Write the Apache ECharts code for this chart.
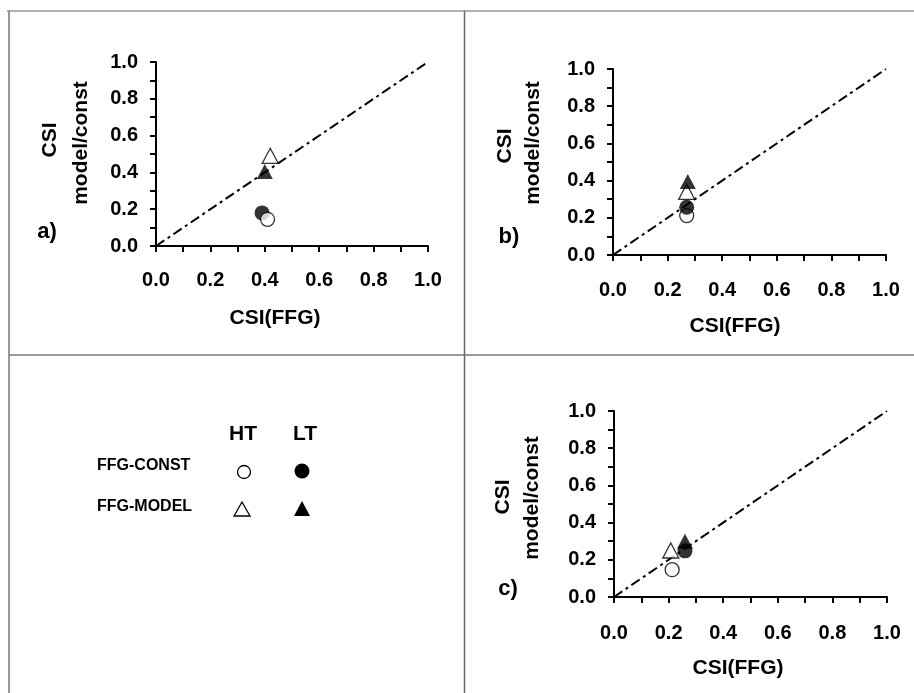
<!DOCTYPE html>
<html>
<head>
<meta charset="utf-8">
<script src="https://cdn.jsdelivr.net/npm/echarts@6/dist/echarts.min.js"></script>
<style>html,body{margin:0;padding:0;background:#fff;}#c{width:914px;height:693px;}</style>
</head>
<body>
<div id="c"></div>
<script>
// ---- data ----
const PANELS = ['a)', 'b)', 'c)'];
const HT_CONST = [[0.41, 0.145], [0.27, 0.212], [0.213, 0.147]];
const LT_CONST = [[0.39, 0.18], [0.27, 0.257], [0.26, 0.248]];
const HT_MODEL = [[0.42, 0.49], [0.27, 0.34], [0.208, 0.25]];
const LT_MODEL = [[0.40, 0.405], [0.274, 0.395], [0.26, 0.30]];
const ONE_TO_ONE = [[0, 0], [1, 1]];
const TICK_VALUES = [0, 0.2, 0.4, 0.6, 0.8, 1.0];
const TICK_LABELS = ['0.0', '0.2', '0.4', '0.6', '0.8', '1.0'];
const X_TITLE = 'CSI(FFG)';
const Y_TITLE_1 = 'CSI';
const Y_TITLE_2 = 'model/const';
const ROW_LABELS = ['FFG-CONST', 'FFG-MODEL'];
const COL_LABELS = ['HT', 'LT'];

// ---- layout ----
const FONT = 'Liberation Sans, Arial, sans-serif';
const grids = [
  {left: 156, top: 62, width: 272, height: 184},
  {left: 613, top: 69, width: 273, height: 186},
  {left: 614, top: 411, width: 273, height: 186}
];
const xLabelMargin = [24, 25, 26];
const xTitlePos = [[275, 318], [735, 326], [738, 668]];
const yTitle1Pos = [[50, 140], [505, 146], [503, 497]];
const yTitle2Pos = [[81, 143], [533, 143], [532, 498]];
const letterPos = [[47, 232], [509, 237], [508, 589]];

function fmt(v) {
  const i = TICK_VALUES.findIndex(t => Math.abs(t - v) < 1e-6);
  return i >= 0 ? TICK_LABELS[i] : '';
}
const axisCommon = {
  type: 'value', min: 0, max: 1, interval: 0.2,
  axisLine: {show: true, onZero: false, lineStyle: {color: '#000', width: 2}},
  axisTick: {show: true, length: 6, lineStyle: {color: '#000', width: 2}},
  minorTick: {show: true, splitNumber: 2, length: 6, lineStyle: {color: '#000', width: 2}},
  splitLine: {show: false}, minorSplitLine: {show: false}
};
const xAxes = grids.map((g, i) => Object.assign({}, axisCommon, {
  gridIndex: i,
  axisLabel: {margin: xLabelMargin[i], formatter: fmt, color: '#000', fontSize: 20, fontWeight: 'bold', fontFamily: FONT}
}));
const yAxes = grids.map((g, i) => Object.assign({}, axisCommon, {
  gridIndex: i,
  axisLabel: {margin: 18, formatter: fmt, color: '#000', fontSize: 20, fontWeight: 'bold', fontFamily: FONT}
}));

const series = [];
grids.forEach((g, i) => {
  series.push({type: 'line', xAxisIndex: i, yAxisIndex: i, data: ONE_TO_ONE, symbol: 'none', silent: true,
    lineStyle: {color: '#000', width: 2, type: [10, 4, 3, 4]}, z: 1});
  const open = {color: '#fff', borderColor: '#000', borderWidth: 1.3};
  const filled = {color: '#000'};
  const htOnTop = (i === 0);
  const lt = [
    {type: 'scatter', xAxisIndex: i, yAxisIndex: i, data: [LT_CONST[i]], symbol: 'circle', symbolSize: 15, itemStyle: filled},
    {type: 'scatter', xAxisIndex: i, yAxisIndex: i, data: [LT_MODEL[i]], symbol: 'triangle', symbolSize: [16, 15], itemStyle: filled}
  ];
  const ht = [
    {type: 'scatter', xAxisIndex: i, yAxisIndex: i, data: [HT_CONST[i]], symbol: 'circle', symbolSize: 14, itemStyle: open},
    {type: 'scatter', xAxisIndex: i, yAxisIndex: i, data: [HT_MODEL[i]], symbol: 'triangle', symbolSize: [16, 15], itemStyle: open}
  ];
  const ordered = htOnTop ? lt.concat(ht) : ht.concat(lt);
  ordered.forEach((s, k) => { s.z = 2 + k; series.push(s); });
});

const graphic = [];
// frame lines
graphic.push({type: 'line', shape: {x1: 7, y1: 11, x2: 914, y2: 11}, style: {stroke: '#999', lineWidth: 1.5}});
graphic.push({type: 'line', shape: {x1: 9, y1: 11, x2: 9, y2: 693}, style: {stroke: '#777', lineWidth: 1.5}});
graphic.push({type: 'line', shape: {x1: 464.5, y1: 11, x2: 464.5, y2: 693}, style: {stroke: '#666', lineWidth: 1.5}});
graphic.push({type: 'line', shape: {x1: 9, y1: 355, x2: 914, y2: 355}, style: {stroke: '#777', lineWidth: 1.5}});

function txt(s, x, y, size, rot, weight) {
  return {type: 'text', x: x, y: y, rotation: rot || 0,
    style: {text: s, x: 0, y: 0, align: 'center', verticalAlign: 'middle',
      font: (weight || 'bold') + ' ' + size + 'px ' + FONT, fill: '#000'}};
}
for (let i = 0; i < 3; i++) {
  graphic.push(txt(X_TITLE, xTitlePos[i][0], xTitlePos[i][1], 21));
  graphic.push(txt(Y_TITLE_1, yTitle1Pos[i][0], yTitle1Pos[i][1], 21, Math.PI / 2));
  graphic.push(txt(Y_TITLE_2, yTitle2Pos[i][0], yTitle2Pos[i][1], 21, Math.PI / 2));
  graphic.push(txt(PANELS[i], letterPos[i][0], letterPos[i][1], 22));
}
// legend table
graphic.push(txt(COL_LABELS[0], 243, 434, 21));
graphic.push(txt(COL_LABELS[1], 305, 434, 21));
graphic.push({type: 'text', x: 97, y: 466, style: {text: ROW_LABELS[0], x: 0, y: 0, align: 'left', verticalAlign: 'middle', font: 'bold 16px ' + FONT, fill: '#000'}});
graphic.push({type: 'text', x: 97, y: 507, style: {text: ROW_LABELS[1], x: 0, y: 0, align: 'left', verticalAlign: 'middle', font: 'bold 16px ' + FONT, fill: '#000'}});
graphic.push({type: 'circle', shape: {cx: 244, cy: 472, r: 6.5}, style: {fill: '#fff', stroke: '#000', lineWidth: 1.3}});
graphic.push({type: 'circle', shape: {cx: 302, cy: 471, r: 7.5}, style: {fill: '#000'}});
graphic.push({type: 'polygon', shape: {points: [[242, 502], [234, 516], [250, 516]]}, style: {fill: '#fff', stroke: '#000', lineWidth: 1.3}});
graphic.push({type: 'polygon', shape: {points: [[302, 501], [294, 516], [310, 516]]}, style: {fill: '#000'}});

const chart = echarts.init(document.getElementById('c'), null, {renderer: 'canvas'});
chart.setOption({
  backgroundColor: '#fff',
  animation: false,
  grid: grids.map(g => Object.assign({containLabel: false}, g)),
  xAxis: xAxes,
  yAxis: yAxes,
  series: series,
  graphic: graphic
});
</script>
</body>
</html>
